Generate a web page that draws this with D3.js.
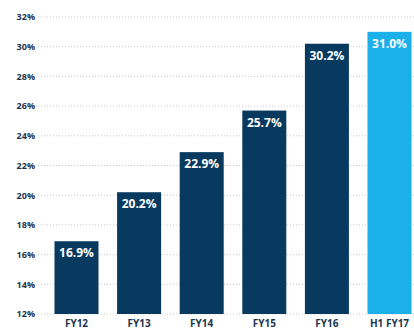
<!DOCTYPE html>
<html><head><meta charset="utf-8">
<script src="https://cdn.jsdelivr.net/npm/d3@7"></script>
<style>
html,body{margin:0;padding:0;background:#fff;}
svg{display:block;}
text{font-family:"Open Sans",sans-serif;font-weight:700;}
</style></head>
<body>
<svg id="c" width="414" height="329"></svg>
<script>
const categories = ["FY12","FY13","FY14","FY15","FY16","H1 FY17"];
const values = [16.9, 20.2, 22.9, 25.7, 30.2, 31.0];
const valueLabels = ["16.9%","20.2%","22.9%","25.7%","30.2%","31.0%"];
const yTicks = [12,14,16,18,20,22,24,26,28,30,32];
const highlight = ["H1 FY17"];

const svg = d3.select("#c");
const y = d3.scaleLinear().domain([12,32]).range([314,17]);
const x = d3.scaleBand().domain(categories).range([35.7,430.3]).paddingInner(0.297).paddingOuter(0.3);

const grid = svg.append("g");
grid.selectAll("line").data(yTicks).join("line")
  .attr("x1",38).attr("x2",414)
  .attr("y1",d=>y(d)).attr("y2",d=>y(d))
  .attr("stroke","#c9c9c9").attr("stroke-width",1)
  .attr("stroke-dasharray","1,2");

const yAxis = d3.axisLeft(y).tickValues(yTicks).tickSize(0).tickPadding(0).tickFormat(d=>d+"%");
const ya = svg.append("g").attr("transform","translate(35,0)").call(yAxis);
ya.select(".domain").remove();
ya.selectAll("text").attr("fill","#1b3550").style("font-size","9px").style("font-weight","700").style("font-family","'Open Sans',sans-serif");

svg.append("g").selectAll("rect").data(categories).join("rect")
  .attr("x",d=>x(d)).attr("width",x.bandwidth())
  .attr("y",(d,i)=>y(values[i])).attr("height",(d,i)=>y(12)-y(values[i]))
  .attr("fill",d=>highlight.includes(d)?"#1cb0ea":"#083a60");

svg.append("g").selectAll("text").data(categories).join("text")
  .attr("x",d=>x(d)+x.bandwidth()/2)
  .attr("y",(d,i)=>y(values[i])+16)
  .attr("text-anchor","middle").attr("fill","#fff")
  .style("font-size","12px")
  .text((d,i)=>valueLabels[i]);

const xAxis = d3.axisBottom(x).tickSize(0).tickPadding(0);
const xa = svg.append("g").attr("transform","translate(0,318.5)").call(xAxis);
xa.select(".domain").remove();
xa.selectAll("text").attr("fill","#1b3550").style("font-size","10px").style("font-weight","700").style("font-family","'Open Sans',sans-serif").attr("dy","0.85em");
</script>
</body></html>
